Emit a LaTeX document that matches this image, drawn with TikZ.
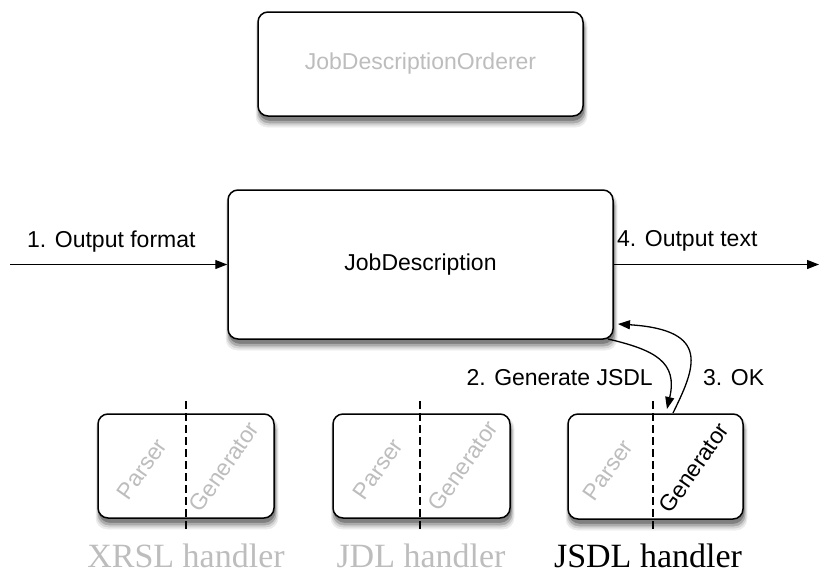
\documentclass[tikz,border=0pt]{standalone}
\usepackage{fontspec}
\setmainfont{Liberation Serif}
\newfontfamily\labelfont{Liberation Sans}
\usetikzlibrary{arrows.meta}
\definecolor{faded}{HTML}{BDBDBD}
\definecolor{shadeA}{HTML}{EBEBEB}
\definecolor{shadeB}{HTML}{D2D2D2}
\definecolor{shadeC}{HTML}{ABABAB}
\definecolor{shadeD}{HTML}{808080}
\begin{document}
\begin{tikzpicture}[x=1pt,y=-1pt,
  box/.style={draw=black, line width=1.5pt, rounded corners=10pt, fill=white,
    inner sep=0pt, font=\labelfont\fontsize{23}{27}\selectfont},
  shadelayer/.style={rounded corners=11pt, line width=0.5pt},
  lbl/.style={font=\labelfont\fontsize{23}{27}\selectfont, inner sep=0pt},
  rot/.style={font=\labelfont\fontsize{23}{27}\selectfont, inner sep=0pt, rotate=55},
  handlerlbl/.style={font=\fontsize{34}{40}\selectfont, inner sep=0pt},
  divider/.style={line width=1.4pt, dash pattern=on 8pt off 4pt},
  flow/.style={line width=1.3pt, -{Triangle[length=12pt,width=9pt]}},
]
\useasboundingbox (0,0) rectangle (819,576);

% shadows (drawn first, below the boxes)
\foreach \xa/\ya/\xb/\yb in {258/12/583/116, 228/190/613/339, 98/414/274/518, 333/414/510/518, 568/414/743/519}{
  \filldraw[shadelayer, fill=shadeA, draw=shadeA] (\xa-2,\ya+3) rectangle (\xb+4,\yb+11);
  \filldraw[shadelayer, fill=shadeB, draw=shadeB] (\xa-1,\ya+4) rectangle (\xb+3,\yb+9);
  \filldraw[shadelayer, fill=shadeC, draw=shadeC] (\xa,\ya+5) rectangle (\xb+2,\yb+7);
  \filldraw[shadelayer, fill=shadeD, draw=shadeD] (\xa+1,\ya+4) rectangle (\xb+1,\yb+4.5);
}

\node[box, minimum width=325pt, minimum height=104pt, text=faded] (orderer) at (420.5,64) {JobDescriptionOrderer};
\node[box, minimum width=385pt, minimum height=149pt] (jd) at (420.5,264.5) {JobDescription};

\node[box, minimum width=176pt, minimum height=104pt] (xrsl) at (186,466) {};
\node[box, minimum width=177pt, minimum height=104pt] (jdl) at (421.5,466) {};
\node[box, minimum width=175pt, minimum height=105pt] (jsdl) at (655.5,466.5) {};

\draw[divider] ([yshift=12pt]xrsl.north) -- ([yshift=-12pt]xrsl.south);
\draw[divider] ([yshift=12pt,xshift=-1.5pt]jdl.north) -- ([yshift=-12pt,xshift=-1.5pt]jdl.south);
\draw[divider] ([yshift=12pt,xshift=-2.5pt]jsdl.north) -- ([yshift=-12pt,xshift=-2.5pt]jsdl.south);

\node[rot, text=faded] (xp) at (142,469) {Parser};
\node[rot, text=faded] (xg) at (224,467) {Generator};
\node[rot, text=faded] (dp) at (378,469) {Parser};
\node[rot, text=faded] (dg) at (463,466) {Generator};
\node[rot, text=faded] (sp) at (608,470) {Parser};
\node[rot, text=black] (sg) at (694,468) {Generator};

\node[handlerlbl, text=faded] (xl) at (186,556) {XRSL handler};
\node[handlerlbl, text=faded] (dl) at (421,556) {JDL handler};
\node[handlerlbl, text=black] (sl) at (648,556) {JSDL handler};

\coordinate (inL) at (10,264.5);
\coordinate (outR) at (819,264.5);
\draw[flow] (inL) -- (jd.west);
\draw[flow] (jd.east) -- (outR);
\node[lbl, anchor=south west] (l1) at (27,252) {1. Output format};
\node[lbl, anchor=south west] (l4) at (617,251) {4. Output text};

\coordinate (gs) at (608,339);
\coordinate (ge) at (667,409);
\coordinate (os) at (673,413);
\coordinate (oe) at (618,324);
\draw[flow] (gs) .. controls (655,350) and (678,362) .. (ge);
\draw[flow] (os) .. controls (695,368) and (712,330) .. (oe);
\node[lbl, anchor=east] (l2) at (653,378) {2. Generate JSDL};
\node[lbl, anchor=west] (l3) at (703,378) {3. OK};
\end{tikzpicture}
\end{document}
